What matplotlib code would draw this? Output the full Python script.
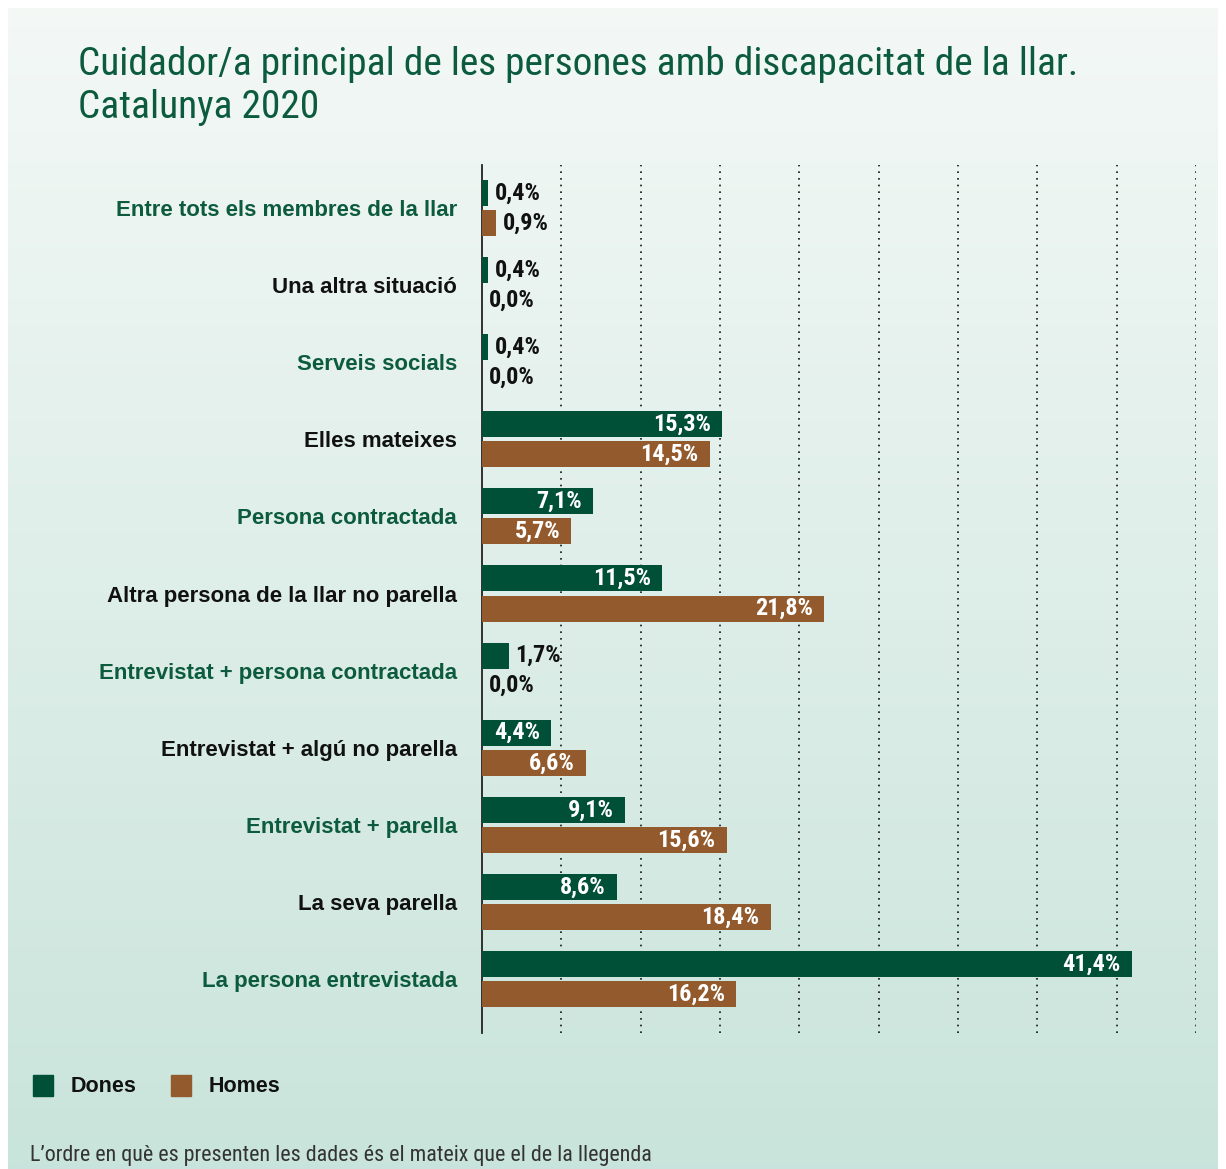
import os
import numpy as np
import matplotlib.pyplot as plt
from matplotlib.patches import Rectangle
from matplotlib import font_manager as fm

categories = [
    'Entre tots els membres de la llar',
    'Una altra situació',
    'Serveis socials',
    'Elles mateixes',
    'Persona contractada',
    'Altra persona de la llar no parella',
    'Entrevistat + persona contractada',
    'Entrevistat + algú no parella',
    'Entrevistat + parella',
    'La seva parella',
    'La persona entrevistada',
]
dones = [0.4, 0.4, 0.4, 15.3, 7.1, 11.5, 1.7, 4.4, 9.1, 8.6, 41.4]
homes = [0.9, 0.0, 0.0, 14.5, 5.7, 21.8, 0.0, 6.6, 15.6, 18.4, 16.2]
series_names = ['Dones', 'Homes']
title_lines = ['Cuidador/a principal de les persones amb discapacitat de la llar.',
               'Catalunya 2020']
footnote = "L’ordre en què es presenten les dades és el mateix que el de la llegenda"

GREEN = '#004f37'
BROWN = '#935b2d'
LABEL_GREEN = '#0d5b3e'

# look for a condensed face on the system, fall back to something narrower than DejaVu
_files = fm.findSystemFonts()
def pick(keys, fallback_family, weight):
    for key in keys:
        for f in _files:
            if os.path.basename(f).lower() == key:
                return fm.FontProperties(fname=f)
    return fm.FontProperties(family=fallback_family, weight=weight)

narrow = pick(['liberationsansnarrow-regular.ttf', 'robotocondensed-regular.ttf',
               'dejavusanscondensed.ttf'], ['Roboto', 'DejaVu Sans'], 'normal')
narrow_bold = pick(['liberationsansnarrow-bold.ttf', 'robotocondensed-bold.ttf',
                    'dejavusanscondensed-bold.ttf'], ['Roboto', 'DejaVu Sans'], 'bold')
sans_bold = pick(['liberationsans-bold.ttf', 'arimo-bold.ttf'], ['DejaVu Sans'], 'bold')

def fp(base, size):
    p = base.copy()
    p.set_size(size)
    return p

W, H = 1226, 1169
fig = plt.figure(figsize=(W / 100, H / 100), dpi=100)
fig.patch.set_facecolor('white')

# gradient panel
bg = fig.add_axes([8 / W, 0, (1218 - 8) / W, (H - 8) / H], zorder=-10)
grad = np.linspace(0, 1, 256).reshape(-1, 1)
top = np.array([0.955, 0.973, 0.965])
bot = np.array([0.788, 0.894, 0.859])
img = top + (bot - top) * grad[..., None]
bg.imshow(img, aspect='auto', extent=[0, 1, 0, 1], origin='upper')
bg.axis('off')

for yb, line in zip([75, 118], title_lines):
    fig.text(78 / W, 1 - yb / H, line, fontproperties=fp(narrow, 28.4),
             color=LABEL_GREEN, va='baseline', ha='left')

ax = fig.add_axes([482 / W, 1 - 1033 / H, (1196 - 482) / W, (1033 - 165) / H])
ax.patch.set_alpha(0)
n = len(categories)
y = np.arange(n)
off = 0.195
bh = 0.337
xmax = 45.5
ax.barh(y - off, dones, height=bh, color=GREEN, zorder=3)
ax.barh(y + off, homes, height=bh, color=BROWN, zorder=3)
ax.set_xlim(0, xmax)
ax.set_ylim(n - 1 + 0.70, -0.558)

for xg in np.linspace(0, xmax, 10)[1:]:
    ax.axvline(xg, color='#111111', lw=1.2, ls=(0, (1, 3)), zorder=1)

for s in ['top', 'right', 'bottom']:
    ax.spines[s].set_visible(False)
ax.spines['left'].set_color('#222222')
ax.spines['left'].set_linewidth(1.3)
ax.set_xticks([])
ax.set_yticks(y)
ax.set_yticklabels(categories)
ax.tick_params(axis='y', length=0, pad=18)
for i, lab in enumerate(ax.get_yticklabels()):
    lab.set_fontproperties(fp(sans_bold, 16))
    lab.set_color(LABEL_GREEN if i % 2 == 0 else '#111111')

def label(vals, ypos):
    for v, yy in zip(vals, ypos):
        txt = f'{v:.1f}%'.replace('.', ',')
        if v >= 3:
            ax.annotate(txt, (v, yy), xytext=(-8, 0), textcoords='offset points',
                        ha='right', va='center', color='white',
                        fontproperties=fp(narrow_bold, 17.5), zorder=4)
        else:
            ax.annotate(txt, (v, yy), xytext=(5, 0), textcoords='offset points',
                        ha='left', va='center', color='#111111',
                        fontproperties=fp(narrow_bold, 17.5), zorder=4)

label(dones, y - off)
label(homes, y + off)

# legend
for x0, c, name in [(33, GREEN, series_names[0]), (171, BROWN, series_names[1])]:
    fig.patches.append(Rectangle((x0 / W, 1 - 1096 / H), 20 / W, 21 / H,
                                 transform=fig.transFigure, color=c))
    fig.text((x0 + 38) / W, 1 - 1086 / H, name, fontproperties=fp(sans_bold, 15.5),
             color='#111111', va='center', ha='left')

fig.text(30 / W, 1 - 1155 / H, footnote, fontproperties=fp(narrow, 15.8),
         color='#333333', va='center', ha='left')

fig.savefig('out.png', dpi=100)
